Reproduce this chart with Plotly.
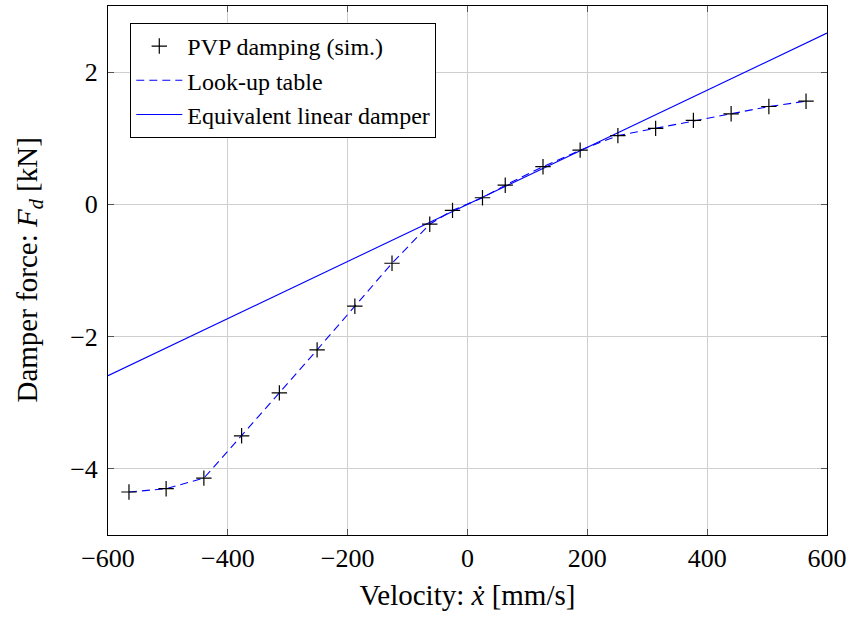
import plotly.graph_objects as go

# Simulated PVP damper force vs. velocity
velocity = [-565, -503, -440, -377, -314, -251, -188, -126, -63, -25,
            25, 63, 126, 188, 251, 314, 377, 440, 503, 565]
force = [-4.35, -4.30, -4.14, -3.50, -2.85, -2.20, -1.54, -0.89, -0.30, -0.09,
         0.10, 0.29, 0.57, 0.82, 1.04, 1.15, 1.27, 1.37, 1.48, 1.56]

# Equivalent linear damper (end points across the axis range)
lin_velocity = [-600, 600]
lin_force = [-2.59, 2.59]

x_ticks = [-600, -400, -200, 0, 200, 400, 600]
y_ticks = [-4, -2, 0, 2]

serif = "Liberation Serif, DejaVu Serif, serif"


def minus_labels(vals):
    return [("\u2212" + str(-v)) if v < 0 else str(v) for v in vals]


fig = go.Figure()

fig.add_trace(go.Scatter(
    x=velocity, y=force, mode="lines", name="Look-up table", legendrank=2,
    line=dict(color="#0000ff", width=1.1, dash="8px,5px"),
))
fig.add_trace(go.Scatter(
    x=lin_velocity, y=lin_force, mode="lines", name="Equivalent linear damper",
    legendrank=3, line=dict(color="#0000ff", width=1.1),
))
fig.add_trace(go.Scatter(
    x=velocity, y=force, mode="markers", name="PVP damping (sim.)", legendrank=1,
    marker=dict(symbol="cross-thin", size=11, line=dict(color="black", width=1.2)),
))

axis_common = dict(
    showline=True, linecolor="black", linewidth=1, mirror="allticks",
    ticks="inside", ticklen=6, tickcolor="#555", tickwidth=1,
    showgrid=True, gridcolor="#cfcfcf", gridwidth=1, zeroline=False,
    automargin=False,
    tickfont=dict(family=serif, size=26, color="black"),
)

fig.update_layout(
    width=850, height=619,
    margin=dict(l=108, r=23, t=6, b=84),
    paper_bgcolor="white", plot_bgcolor="white",
    font=dict(family=serif, color="black"),
    xaxis=dict(
        range=[-600, 600], tickvals=x_ticks, ticktext=minus_labels(x_ticks),
        ticklabelstandoff=0,
        title=dict(text="Velocity: <i>x\u0307</i> [mm/s]",
                   font=dict(family=serif, size=29, color="black"), standoff=12),
        **axis_common,
    ),
    yaxis=dict(
        range=[-5, 3], tickvals=y_ticks, ticktext=minus_labels(y_ticks),
        ticklabelstandoff=4,
        **axis_common,
    ),
    legend=dict(
        x=0.031, y=0.968, xanchor="left", yanchor="top",
        bordercolor="black", borderwidth=1, bgcolor="white",
        font=dict(family=serif, size=24, color="black"),
        traceorder="normal", tracegroupgap=0, itemwidth=46,
    ),
)

# Y-axis title placed as a rotated label left of the tick labels
fig.add_annotation(
    text="Damper force: <i>F<sub>d</sub></i> [kN]",
    xref="paper", yref="paper", x=0, y=0.5, xanchor="center", yanchor="middle",
    xshift=-80, textangle=-90, showarrow=False,
    font=dict(family=serif, size=29, color="black"),
)

fig.write_html("out.html")
